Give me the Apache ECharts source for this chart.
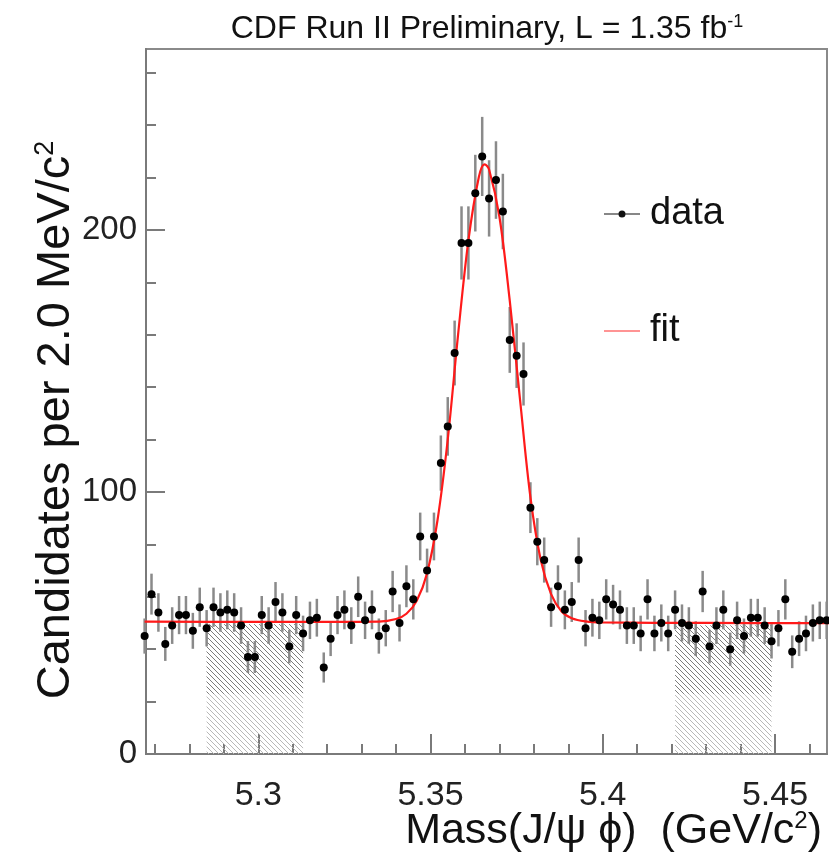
<!DOCTYPE html>
<html>
<head>
<meta charset="utf-8">
<script src="https://cdn.jsdelivr.net/npm/echarts@6/dist/echarts.min.js"></script>
<style>
  html, body { margin: 0; padding: 0; background: #ffffff; }
  #chart { width: 829px; height: 858px; }
</style>
</head>
<body>
<div id="chart"></div>
<script>
// ---------------- data ----------------
// bin centres of the 2 MeV/c^2 histogram (GeV/c^2)
const massBins = [
  5.267,5.269,5.271,5.273,5.275,5.277,5.279,5.281,5.283,5.285,
  5.287,5.289,5.291,5.293,5.295,5.297,5.299,5.301,5.303,5.305,
  5.307,5.309,5.311,5.313,5.315,5.317,5.319,5.321,5.323,5.325,
  5.327,5.329,5.331,5.333,5.335,5.337,5.339,5.341,5.343,5.345,
  5.347,5.349,5.351,5.353,5.355,5.357,5.359,5.361,5.363,5.365,
  5.367,5.369,5.371,5.373,5.375,5.377,5.379,5.381,5.383,5.385,
  5.387,5.389,5.391,5.393,5.395,5.397,5.399,5.401,5.403,5.405,
  5.407,5.409,5.411,5.413,5.415,5.417,5.419,5.421,5.423,5.425,
  5.427,5.429,5.431,5.433,5.435,5.437,5.439,5.441,5.443,5.445,
  5.447,5.449,5.451,5.453,5.455,5.457,5.459,5.461,5.463,5.465
];
// candidates per bin
const candidates = [
  45,61,54,42,49,53,53,47,56,48,
  56,54,55,54,49,37,37,53,49,58,
  54,41,53,46,51,52,33,44,53,55,
  49,60,51,55,45,48,62,50,64,59,
  83,70,83,111,125,153,195,195,214,228,
  212,219,207,158,152,145,94,81,74,56,
  64,55,58,74,48,52,51,59,57,55,
  49,49,46,59,46,50,46,55,50,49,
  44,62,41,49,55,40,51,45,52,52,
  49,43,48,59,39,44,46,50,51,51
];
const binHalfWidth = 0.001;

// fit curve
const fitMass = [5.267,5.300,5.320,5.335,5.340,5.343,5.346,5.349,5.352,5.355,5.358,5.361,5.364,5.3657,5.367,5.370,5.373,5.376,5.379,5.382,5.385,5.388,5.391,5.395,5.400,5.430,5.466];
const fitValue = [50.5,50.4,50.4,50.5,51.5,53.5,58.5,69,89,120,160,196,220,225,223,205,173,135,98,74,61,54.5,51.8,50.6,50.2,50.0,49.9];

// hatched sideband regions
const sidebandLow  = [5.285, 5.421];
const sidebandHigh = [5.313, 5.449];
const sidebandTop  = [49.5, 49];
const sidebandMid  = [23, 23];

// axis ticks / labels
const xMajorTicks = [5.30, 5.35, 5.40, 5.45];
const xMinorTicks = [5.27,5.28,5.29,5.31,5.32,5.33,5.34,5.36,5.37,5.38,5.39,5.41,5.42,5.43,5.44,5.46];
const yMajorTicks = [0, 100, 200];
const yMinorTicks = [20,40,60,80,120,140,160,180,220,240,260];
const xRange = [5.2674, 5.4651];
const yRange = [0, 269];

// ---------------- drawing ----------------
const FONT = "'Liberation Sans', Arial, Helvetica, sans-serif";

function hatch(color, step, lw) {
  const c = document.createElement('canvas');
  c.width = step; c.height = step;
  const g = c.getContext('2d');
  g.strokeStyle = color; g.lineWidth = lw;
  g.beginPath();
  g.moveTo(-1, -1); g.lineTo(step + 1, step + 1);
  g.moveTo(-1, step - 1); g.lineTo(1, step + 1);
  g.moveTo(step - 1, -1); g.lineTo(step + 1, 1);
  g.stroke();
  return c;
}
const lightHatch = hatch('#b8b8b8', 5, 1);
const darkHatch = hatch('#7c7c7c', 5, 1);

const pointData = massBins.map((m, i) => [m, candidates[i]]);
const fitData = fitMass.map((m, i) => [m, fitValue[i]]);
const bandData = sidebandLow.map((lo, i) => [lo, sidebandHigh[i], sidebandTop[i], sidebandMid[i]]);

const chart = echarts.init(document.getElementById('chart'), null, { renderer: 'canvas' });

const axisGray = '#7a7a7a';

chart.setOption({
  animation: false,
  backgroundColor: '#ffffff',
  grid: { left: 146, right: 2, top: 49, bottom: 104, show: true, borderColor: '#8a8a8a', borderWidth: 2 },
  xAxis: [
    {
      type: 'value', min: xRange[0], max: xRange[1], position: 'bottom',
      axisLine: { show: true, onZero: false, lineStyle: { color: axisGray, width: 2 } },
      axisTick: { show: true, inside: true, length: 20, customValues: xMajorTicks, lineStyle: { color: axisGray, width: 2 } },
      axisLabel: { customValues: xMajorTicks, fontSize: 34, fontFamily: FONT, color: '#222', margin: 25,
                   formatter: v => String(+v.toFixed(2)) },
      splitLine: { show: false }
    },
    {
      type: 'value', min: xRange[0], max: xRange[1], position: 'bottom',
      axisLine: { show: false, onZero: false },
      axisTick: { show: true, inside: true, length: 10, customValues: xMinorTicks, lineStyle: { color: axisGray, width: 2 } },
      axisLabel: { show: false },
      splitLine: { show: false }
    }
  ],
  yAxis: [
    {
      type: 'value', min: yRange[0], max: yRange[1], position: 'left',
      axisLine: { show: true, onZero: false, lineStyle: { color: axisGray, width: 2 } },
      axisTick: { show: true, inside: true, length: 19, customValues: yMajorTicks, lineStyle: { color: axisGray, width: 2 } },
      axisLabel: { customValues: yMajorTicks, fontSize: 33, fontFamily: FONT, color: '#222', margin: 9 },
      splitLine: { show: false }
    },
    {
      type: 'value', min: yRange[0], max: yRange[1], position: 'left',
      axisLine: { show: false, onZero: false },
      axisTick: { show: true, inside: true, length: 10, customValues: yMinorTicks, lineStyle: { color: axisGray, width: 2 } },
      axisLabel: { show: false },
      splitLine: { show: false }
    }
  ],
  legend: {
    orient: 'vertical', left: 599, top: 190,
    itemWidth: 36, itemHeight: 8, itemGap: 79,
    selectedMode: false, symbolKeepAspect: true,
    textStyle: { fontSize: 38, fontFamily: FONT, color: '#111', padding: [0, 0, 0, 5] },
    data: [
      { name: 'data', icon: 'path://M0,3.6H36V4.4H0Z M14.5,4A3.5,3.5 0 1 1 21.5,4A3.5,3.5 0 1 1 14.5,4Z', itemStyle: { color: '#111' } },
      { name: 'fit', icon: 'path://M0,0H36V1.6H0Z', itemStyle: { color: '#ff7070' } }
    ]
  },
  graphic: [
    {
      type: 'text', x: 487, y: 29, z: 10,
      style: {
        text: '{a|CDF Run II Preliminary, L = 1.35 fb}{s|-1}',
        align: 'center', verticalAlign: 'middle',
        rich: {
          a: { fontSize: 32, fontFamily: FONT, fill: '#111', color: '#111' },
          s: { fontSize: 18, fontFamily: FONT, fill: '#111', color: '#111', verticalAlign: 'top' }
        }
      }
    },
    {
      type: 'text', x: 822, y: 831, z: 10,
      style: {
        text: '{a|Mass(J/\u03C8 \u03D5)  (GeV/c}{s|2}{a|)}',
        align: 'right', verticalAlign: 'middle',
        rich: {
          a: { fontSize: 43, fontFamily: FONT, fill: '#111', color: '#111' },
          s: { fontSize: 24, fontFamily: FONT, fill: '#111', color: '#111', verticalAlign: 'top' }
        }
      }
    },
    {
      type: 'text', x: 56, y: 420, rotation: Math.PI / 2, z: 10,
      style: {
        text: '{a|Candidates per 2.0 MeV/c}{s|2}',
        align: 'center', verticalAlign: 'middle',
        rich: {
          a: { fontSize: 47, fontFamily: FONT, fill: '#111', color: '#111' },
          s: { fontSize: 27, fontFamily: FONT, fill: '#111', color: '#111', verticalAlign: 'top' }
        }
      }
    }
  ],
  series: [
    {
      name: 'sidebands', type: 'custom', xAxisIndex: 0, yAxisIndex: 0, z: 1, silent: true,
      data: bandData,
      renderItem: function (params, api) {
        const lo = api.value(0), hi = api.value(1), top = api.value(2), mid = api.value(3);
        const pTopL = api.coord([lo, top]);
        const pMidR = api.coord([hi, mid]);
        const pBotR = api.coord([hi, 0]);
        return {
          type: 'group',
          children: [
            { type: 'rect', shape: { x: pTopL[0], y: pTopL[1], width: pBotR[0] - pTopL[0], height: pBotR[1] - pTopL[1] },
              style: { fill: { image: lightHatch, repeat: 'repeat' } } },
            { type: 'rect', shape: { x: pTopL[0], y: pTopL[1], width: pMidR[0] - pTopL[0], height: pMidR[1] - pTopL[1] },
              style: { fill: { image: darkHatch, repeat: 'repeat' } } }
          ]
        };
      }
    },
    {
      name: 'errors', type: 'custom', xAxisIndex: 0, yAxisIndex: 0, z: 2, silent: true,
      data: pointData,
      renderItem: function (params, api) {
        const x = api.value(0), y = api.value(1);
        const e = Math.sqrt(y);
        const a = api.coord([x, y + e]), b = api.coord([x, y - e]);
        const l = api.coord([x - binHalfWidth, y]), r = api.coord([x + binHalfWidth, y]);
        return {
          type: 'group',
          children: [
            { type: 'line', shape: { x1: a[0], y1: a[1], x2: b[0], y2: b[1] }, style: { stroke: '#8a8a8a', lineWidth: 2.5 } },
            { type: 'line', shape: { x1: l[0], y1: l[1], x2: r[0], y2: r[1] }, style: { stroke: '#222', lineWidth: 1.5 } }
          ]
        };
      }
    },
    {
      name: 'fit', type: 'line', xAxisIndex: 0, yAxisIndex: 0, z: 3,
      data: fitData, smooth: 0.35, showSymbol: false, symbol: 'none', clip: true,
      lineStyle: { color: '#ff1a1a', width: 2.2 }, itemStyle: { color: '#ff1a1a' }
    },
    {
      name: 'data', type: 'scatter', xAxisIndex: 0, yAxisIndex: 0, z: 4, clip: false,
      data: pointData, symbol: 'circle', symbolSize: 8,
      itemStyle: { color: '#000', opacity: 1 }
    }
  ]
});
</script>
</body>
</html>
